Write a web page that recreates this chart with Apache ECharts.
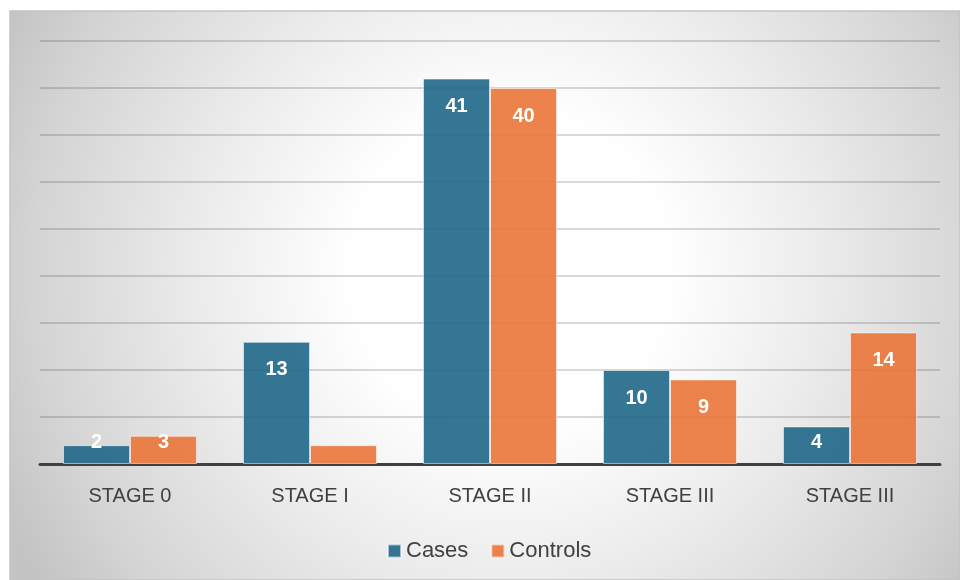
<!DOCTYPE html>
<html>
<head>
<meta charset="utf-8">
<script src="https://cdn.jsdelivr.net/npm/echarts@6/dist/echarts.min.js"></script>
<style>
  html, body { margin: 0; padding: 0; background: #ffffff; }
  #chart { width: 960px; height: 580px; }
</style>
</head>
<body>
<div id="chart"></div>
<script>
const categories = ['STAGE 0', 'STAGE I', 'STAGE II', 'STAGE III', 'STAGE III'];
const cases = [2, 13, 41, 10, 4];
const controls = [3, 2, 40, 9, 14];
const controlsLabelShown = [true, false, true, true, true];
const yMin = 0, yMax = 45, yInterval = 5;

function labelFor(v, shown) {
  const small = v < 5.4;
  return {
    show: shown,
    position: small ? ['50%', '100%'] : ['50%', 0],
    offset: small ? [0, -22] : [0, 28],
    align: 'center',
    verticalAlign: 'middle',
    color: '#ffffff',
    fontSize: 20,
    fontWeight: 'bold',
    fontFamily: 'Liberation Sans, Arial, sans-serif'
  };
}

const casesData = cases.map(v => ({ value: v, label: labelFor(v, true) }));
const controlsData = controls.map((v, i) => ({ value: v, label: labelFor(v, controlsLabelShown[i]) }));

const chart = echarts.init(document.getElementById('chart'), null, { renderer: 'canvas' });
chart.setOption({
  animation: false,
  backgroundColor: '#ffffff',
  graphic: [{
    type: 'rect',
    z: -10,
    silent: true,
    shape: { x: 10, y: 11, width: 950, height: 569 },
    style: {
      fill: {
        type: 'radial', x: 510, y: 270, r: 560, global: true,
        colorStops: [
          { offset: 0, color: '#ffffff' },
          { offset: 0.28, color: '#ffffff' },
          { offset: 0.55, color: '#ececec' },
          { offset: 0.85, color: '#d4d4d4' },
          { offset: 1, color: '#c4c4c4' }
        ]
      },
      stroke: '#c4c4c4',
      lineWidth: 1.5
    }
  }],
  grid: { left: 40, right: 20, top: 41, bottom: 116, containLabel: false },
  legend: {
    data: ['Cases', 'Controls'],
    left: 382,
    top: 535,
    itemWidth: 13,
    itemHeight: 13,
    itemGap: 22,
    icon: 'rect',
    textStyle: { fontSize: 22, color: '#404040', fontFamily: 'Liberation Sans, Arial, sans-serif' }
  },
  xAxis: {
    type: 'category',
    data: categories,
    axisLine: { lineStyle: { color: '#404040', width: 3 } },
    axisTick: { show: false },
    axisLabel: { fontSize: 20, color: '#404040', margin: 22, fontFamily: 'Liberation Sans, Arial, sans-serif' }
  },
  yAxis: {
    type: 'value',
    min: yMin, max: yMax, interval: yInterval,
    axisLabel: { show: false },
    axisLine: { show: false },
    axisTick: { show: false },
    splitLine: { lineStyle: { color: 'rgba(0,0,0,0.2)', width: 1.5 } }
  },
  series: [
    {
      name: 'Cases', type: 'bar', data: casesData,
      barWidth: 67, barGap: '0%',
      itemStyle: { color: 'rgba(30,103,135,0.9)', borderColor: 'rgba(255,255,255,0.55)', borderWidth: 1 }
    },
    {
      name: 'Controls', type: 'bar', data: controlsData,
      barWidth: 67, barGap: '0%',
      itemStyle: { color: 'rgba(234,118,58,0.9)', borderColor: 'rgba(255,255,255,0.55)', borderWidth: 1 }
    }
  ]
});
</script>
</body>
</html>
